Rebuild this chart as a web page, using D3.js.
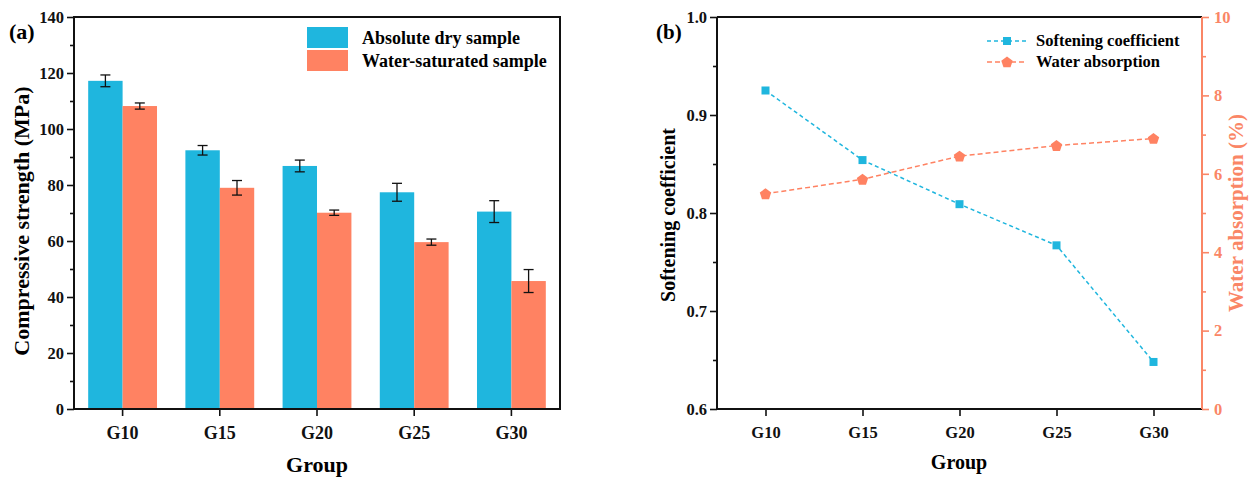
<!DOCTYPE html>
<html>
<head>
<meta charset="utf-8">
<script src="https://cdn.jsdelivr.net/npm/d3@7"></script>
<style>
  body { margin: 0; background: #fff; }
  svg text { font-family: "Liberation Serif", "Times New Roman", serif; font-weight: bold; }
</style>
</head>
<body>
<div id="chart"></div>
<script>
const width = 1253;
const height = 477;

// data
const groups = ["G10", "G15", "G20", "G25", "G30"];
const dryStrength = [117.2, 92.4, 86.8, 77.4, 70.5];
const dryError = [2.1, 1.7, 2.1, 3.2, 3.9];
const wetStrength = [108.2, 79.0, 70.1, 59.6, 45.7];
const wetError = [1.1, 2.6, 0.95, 1.1, 4.1];
const softening = [0.925, 0.854, 0.809, 0.767, 0.648];
const absorption = [5.49, 5.86, 6.45, 6.72, 6.90];

const blue = "#1fb6de";
const orange = "#ff8262";
const axisOrange = "#fa8666";

const svg = d3.select("#chart")
    .append("svg")
    .attr("width", width)
    .attr("height", height);

const plotTop = 17, plotBottom = 409;

// ---------- panel (a) ----------
const xa = d3.scaleBand().domain(groups).range([74, 560]);
const ya = d3.scaleLinear().domain([0, 140]).range([plotBottom, plotTop]);
const barW = xa.bandwidth() * 0.354;

const a = svg.append("g");

groups.forEach((g, i) => {
    const cx = xa(g) + xa.bandwidth() / 2;
    const bars = [
        {x: cx - barW, v: dryStrength[i], e: dryError[i], c: blue},
        {x: cx, v: wetStrength[i], e: wetError[i], c: orange}
    ];
    bars.forEach(b => {
        a.append("rect")
            .attr("x", b.x)
            .attr("y", ya(b.v))
            .attr("width", barW)
            .attr("height", ya(0) - ya(b.v))
            .attr("fill", b.c);
        const mx = b.x + barW / 2;
        a.append("line")
            .attr("x1", mx).attr("x2", mx)
            .attr("y1", ya(b.v + b.e)).attr("y2", ya(b.v - b.e))
            .attr("stroke", "#111").attr("stroke-width", 1.3);
        [b.v + b.e, b.v - b.e].forEach(v => {
            a.append("line")
                .attr("x1", mx - 5).attr("x2", mx + 5)
                .attr("y1", ya(v)).attr("y2", ya(v))
                .attr("stroke", "#111").attr("stroke-width", 1.3);
        });
    });
});

function styleAxis(sel, color, size) {
    sel.select(".domain").remove();
    sel.selectAll("line").attr("stroke", color).attr("stroke-width", 1.6);
    sel.selectAll("text")
        .attr("fill", color)
        .style("font-size", size + "px");
}

// minor ticks
a.append("g")
    .attr("transform", "translate(74,0)")
    .call(d3.axisLeft(ya).tickValues(d3.range(10, 140, 20)).tickSize(4).tickFormat(""))
    .call(s => styleAxis(s, "#111", 16));
a.append("g")
    .attr("transform", "translate(74,0)")
    .call(d3.axisLeft(ya).tickValues(d3.range(0, 141, 20)).tickSize(7).tickPadding(3))
    .call(s => styleAxis(s, "#111", 16.5));
a.append("g")
    .attr("transform", `translate(0,${plotBottom})`)
    .call(d3.axisBottom(xa).tickSize(7).tickPadding(10))
    .call(s => styleAxis(s, "#111", 18));

a.append("rect")
    .attr("x", 74).attr("y", plotTop)
    .attr("width", 486).attr("height", plotBottom - plotTop)
    .attr("fill", "none").attr("stroke", "#111").attr("stroke-width", 2);

a.append("text").attr("x", 9).attr("y", 39).style("font-size", "22px").text("(a)");
a.append("text")
    .attr("transform", `translate(29,${(plotTop + plotBottom) / 2 + 8}) rotate(-90)`)
    .attr("text-anchor", "middle")
    .style("font-size", "22px")
    .text("Compressive strength (MPa)");
a.append("text")
    .attr("x", 317).attr("y", 472)
    .attr("text-anchor", "middle")
    .style("font-size", "22px")
    .text("Group");

// legend (a)
const legA = [["Absolute dry sample", blue], ["Water-saturated sample", orange]];
legA.forEach((d, i) => {
    a.append("rect")
        .attr("x", 307).attr("y", 27 + i * 23)
        .attr("width", 41).attr("height", 21)
        .attr("fill", d[1]);
    a.append("text")
        .attr("x", 362).attr("y", 44 + i * 23)
        .style("font-size", "18px")
        .text(d[0]);
});

// ---------- panel (b) ----------
const xb = d3.scalePoint().domain(groups).range([717, 1202]).padding(0.5);
const yl = d3.scaleLinear().domain([0.6, 1.0]).range([plotBottom, plotTop]);
const yr = d3.scaleLinear().domain([0, 10]).range([plotBottom, plotTop]);

const b = svg.append("g");

b.append("g")
    .attr("transform", "translate(717,0)")
    .call(d3.axisLeft(yl).tickValues([0.65, 0.75, 0.85, 0.95]).tickSize(4).tickFormat(""))
    .call(s => styleAxis(s, "#111", 16));
b.append("g")
    .attr("transform", "translate(717,0)")
    .call(d3.axisLeft(yl).tickValues([0.6, 0.7, 0.8, 0.9, 1.0]).tickSize(7).tickPadding(3).tickFormat(d3.format(".1f")))
    .call(s => styleAxis(s, "#111", 16.5));
b.append("g")
    .attr("transform", `translate(0,${plotBottom})`)
    .call(d3.axisBottom(xb).tickSize(7).tickPadding(10))
    .call(s => styleAxis(s, "#111", 16.5));
b.append("g")
    .attr("transform", "translate(1202,0)")
    .call(d3.axisRight(yr).tickValues([1, 3, 5, 7, 9]).tickSize(4).tickFormat(""))
    .call(s => styleAxis(s, axisOrange, 16));
b.append("g")
    .attr("transform", "translate(1202,0)")
    .call(d3.axisRight(yr).tickValues([0, 2, 4, 6, 8, 10]).tickSize(7).tickPadding(5))
    .call(s => styleAxis(s, axisOrange, 16.5));

// frame
b.append("line").attr("x1", 717).attr("x2", 1202).attr("y1", plotTop).attr("y2", plotTop)
    .attr("stroke", "#111").attr("stroke-width", 2);
b.append("line").attr("x1", 717).attr("x2", 1202).attr("y1", plotBottom).attr("y2", plotBottom)
    .attr("stroke", "#111").attr("stroke-width", 2);
b.append("line").attr("x1", 717).attr("x2", 717).attr("y1", plotTop).attr("y2", plotBottom)
    .attr("stroke", "#111").attr("stroke-width", 2);
b.append("line").attr("x1", 1202).attr("x2", 1202).attr("y1", plotTop).attr("y2", plotBottom)
    .attr("stroke", axisOrange).attr("stroke-width", 2);

function pent(r) {
    const pts = d3.range(5).map(k => {
        const ang = -Math.PI / 2 + k * 2 * Math.PI / 5;
        return [r * Math.cos(ang), r * Math.sin(ang)];
    });
    return "M" + pts.join("L") + "Z";
}

const lineSoft = d3.line().x((d, i) => xb(groups[i])).y(d => yl(d));
const lineAbs = d3.line().x((d, i) => xb(groups[i])).y(d => yr(d));

b.append("path").datum(softening)
    .attr("d", lineSoft).attr("fill", "none")
    .attr("stroke", blue).attr("stroke-width", 1.5)
    .attr("stroke-dasharray", "4,3");
b.append("path").datum(absorption)
    .attr("d", lineAbs).attr("fill", "none")
    .attr("stroke", orange).attr("stroke-width", 1.5)
    .attr("stroke-dasharray", "5,3");

b.selectAll(".sq").data(softening).enter().append("rect")
    .attr("x", (d, i) => xb(groups[i]) - 4)
    .attr("y", d => yl(d) - 4)
    .attr("width", 8).attr("height", 8)
    .attr("fill", blue);
b.selectAll(".pt").data(absorption).enter().append("path")
    .attr("transform", (d, i) => `translate(${xb(groups[i])},${yr(d) + 0.5})`)
    .attr("d", pent(6))
    .attr("fill", orange);

b.append("text").attr("x", 656).attr("y", 39).style("font-size", "21px").text("(b)");
b.append("text")
    .attr("transform", `translate(675,${(plotTop + plotBottom) / 2 + 2}) rotate(-90)`)
    .attr("text-anchor", "middle")
    .style("font-size", "20px")
    .text("Softening coefficient");
b.append("text")
    .attr("transform", `translate(1243,${(plotTop + plotBottom) / 2}) rotate(-90)`)
    .attr("text-anchor", "middle")
    .attr("fill", axisOrange)
    .style("font-size", "21px")
    .text("Water absorption (%)");
b.append("text")
    .attr("x", 959).attr("y", 469)
    .attr("text-anchor", "middle")
    .style("font-size", "20px")
    .text("Group");

// legend (b)
const legB = [["Softening coefficient", blue, "4,3", "sq"], ["Water absorption", orange, "5,3", "pt"]];
legB.forEach((d, i) => {
    const ly = 41 + i * 21;
    b.append("line")
        .attr("x1", 987).attr("x2", 1027).attr("y1", ly).attr("y2", ly)
        .attr("stroke", d[1]).attr("stroke-width", 1.5).attr("stroke-dasharray", d[2]);
    if (d[3] === "sq") {
        b.append("rect").attr("x", 1003).attr("y", ly - 4).attr("width", 8).attr("height", 8).attr("fill", d[1]);
    } else {
        b.append("path").attr("transform", `translate(1007,${ly + 0.5})`).attr("d", pent(6)).attr("fill", d[1]);
    }
    b.append("text")
        .attr("x", 1036).attr("y", ly + 5)
        .style("font-size", "16.5px")
        .text(d[0]);
});
</script>
</body>
</html>
